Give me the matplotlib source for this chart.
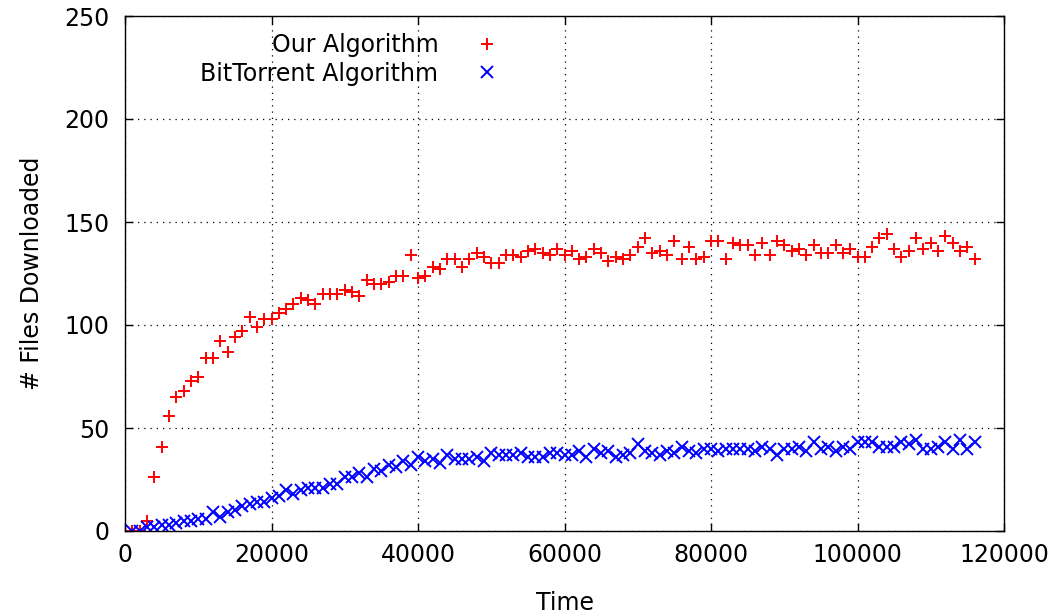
import numpy as np
import matplotlib
matplotlib.use("Agg")
import matplotlib.pyplot as plt

# sample times (one sample every 1000 time units)
time = np.arange(1000, 117000, 1000)

our_algorithm = [
    0, 0, 5, 26, 41, 56, 65, 68, 73, 75,
    84, 84, 92, 87, 94, 97, 104, 99, 103, 103,
    106, 108, 110, 113, 112, 110, 115, 115, 115, 117,
    116, 114, 122, 120, 120, 121, 124, 124, 134, 123,
    124, 128, 127, 132, 132, 128, 132, 135, 133, 130,
    130, 134, 134, 133, 136, 137, 135, 134, 137, 134,
    136, 132, 133, 137, 135, 131, 133, 132, 134, 138,
    142, 135, 136, 134, 141, 132, 138, 132, 133, 141,
    141, 132, 140, 139, 139, 134, 140, 134, 141, 139,
    136, 137, 134, 139, 135, 135, 139, 135, 137, 133,
    133, 138, 142, 144, 137, 133, 136, 142, 137, 140,
    136, 143, 140, 136, 138, 132,
]

bittorrent = [
    0, 0, 2, 2, 3, 3, 4, 5, 5, 6,
    6, 9, 7, 9, 10, 12, 13, 14, 14, 16,
    17, 20, 18, 20, 21, 21, 21, 23, 23, 26,
    26, 28, 26, 30, 29, 32, 31, 34, 32, 36,
    34, 35, 33, 37, 35, 35, 35, 36, 34, 38,
    37, 37, 37, 38, 36, 36, 36, 38, 38, 37,
    37, 39, 36, 40, 38, 39, 36, 37, 38, 42,
    39, 38, 37, 39, 38, 41, 39, 38, 40, 40,
    39, 40, 40, 40, 40, 39, 41, 40, 37, 40,
    40, 41, 39, 43, 40, 41, 39, 41, 40, 43,
    43, 43, 41, 41, 41, 43, 42, 44, 40, 40,
    41, 43, 40, 44, 40, 43,
]

x_ticks = [0, 20000, 40000, 60000, 80000, 100000, 120000]
y_ticks = [0, 50, 100, 150, 200, 250]

plt.rcParams["font.family"] = ["DejaVu Sans"]
plt.rcParams["font.size"] = 17

fig = plt.figure(figsize=(10.48, 6.16), dpi=100)
ax = fig.add_axes([125 / 1048, 1 - 531 / 616, (1004 - 125) / 1048, (531 - 16) / 616])

ax.plot(time, our_algorithm, linestyle="none", marker="+", color="red",
        markersize=8.5, markeredgewidth=1.4, label="Our Algorithm")
ax.plot(time, bittorrent, linestyle="none", marker="x", color="blue",
        markersize=8.5, markeredgewidth=1.4, label="BitTorrent Algorithm")

ax.set_xlim(0, 120000)
ax.set_ylim(0, 250)
ax.set_xticks(x_ticks)
ax.set_yticks(y_ticks)
ax.set_xticklabels([str(t) for t in x_ticks])
ax.tick_params(direction="in", length=6, width=1, top=True, right=True,
               colors="black")
ax.tick_params(axis="y", pad=11)
ax.tick_params(axis="x", pad=9)
ax.grid(True, color="black", linestyle=(0, (1, 4)), linewidth=0.9)
for s in ax.spines.values():
    s.set_linewidth(1.0)

ax.set_xlabel("Time", labelpad=17)
ax.set_ylabel("# Files Downloaded", labelpad=15)

leg = ax.legend(loc="upper right", markerfirst=False, frameon=False,
                bbox_to_anchor=(511 / 1048, 1 - 33 / 616),
                bbox_transform=fig.transFigure, borderpad=0,
                handletextpad=1.08, handlelength=2, labelspacing=0.2,
                borderaxespad=0)

fig.savefig("out.png", dpi=100)
